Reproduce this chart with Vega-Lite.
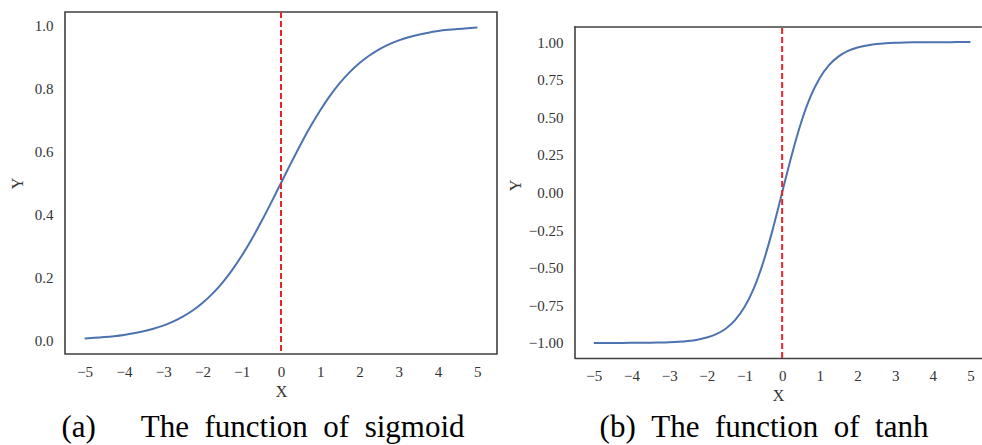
{
  "$schema": "https://vega.github.io/schema/vega-lite/v6.json",
  "background": "white",
  "padding": {"left": 8, "top": 10, "right": 0, "bottom": 0},
  "spacing": 9,
  "datasets": {
    "curve": [
      {"x": -5, "s": 0.00669, "t": -0.99991},
      {"x": -4.75, "s": 0.00858, "t": -0.99985},
      {"x": -4.5, "s": 0.01099, "t": -0.99975},
      {"x": -4.25, "s": 0.01406, "t": -0.99959},
      {"x": -4, "s": 0.01799, "t": -0.99933},
      {"x": -3.75, "s": 0.02298, "t": -0.9989},
      {"x": -3.5, "s": 0.02931, "t": -0.99818},
      {"x": -3.25, "s": 0.03733, "t": -0.997},
      {"x": -3, "s": 0.04743, "t": -0.99505},
      {"x": -2.75, "s": 0.06007, "t": -0.99186},
      {"x": -2.5, "s": 0.07586, "t": -0.98661},
      {"x": -2.25, "s": 0.09534, "t": -0.97803},
      {"x": -2, "s": 0.1192, "t": -0.96403},
      {"x": -1.75, "s": 0.14805, "t": -0.94138},
      {"x": -1.5, "s": 0.18243, "t": -0.90515},
      {"x": -1.25, "s": 0.2227, "t": -0.84828},
      {"x": -1, "s": 0.26894, "t": -0.76159},
      {"x": -0.75, "s": 0.32082, "t": -0.63515},
      {"x": -0.5, "s": 0.37754, "t": -0.46212},
      {"x": -0.25, "s": 0.43782, "t": -0.24492},
      {"x": 0, "s": 0.5, "t": 0},
      {"x": 0.25, "s": 0.56218, "t": 0.24492},
      {"x": 0.5, "s": 0.62246, "t": 0.46212},
      {"x": 0.75, "s": 0.67918, "t": 0.63515},
      {"x": 1, "s": 0.73106, "t": 0.76159},
      {"x": 1.25, "s": 0.7773, "t": 0.84828},
      {"x": 1.5, "s": 0.81757, "t": 0.90515},
      {"x": 1.75, "s": 0.85195, "t": 0.94138},
      {"x": 2, "s": 0.8808, "t": 0.96403},
      {"x": 2.25, "s": 0.90466, "t": 0.97803},
      {"x": 2.5, "s": 0.92414, "t": 0.98661},
      {"x": 2.75, "s": 0.93993, "t": 0.99186},
      {"x": 3, "s": 0.95257, "t": 0.99505},
      {"x": 3.25, "s": 0.96267, "t": 0.997},
      {"x": 3.5, "s": 0.97069, "t": 0.99818},
      {"x": 3.75, "s": 0.97702, "t": 0.9989},
      {"x": 4, "s": 0.98201, "t": 0.99933},
      {"x": 4.25, "s": 0.98594, "t": 0.99959},
      {"x": 4.5, "s": 0.98901, "t": 0.99975},
      {"x": 4.75, "s": 0.99142, "t": 0.99985},
      {"x": 5, "s": 0.99331, "t": 0.99991}
    ],
    "zero": [{"x0": 0}]
  },
  "config": {
    "view": {"stroke": null},
    "font": "Liberation Serif",
    "axis": {
      "grid": false,
      "ticks": false,
      "tickSize": 0,
      "labelFont": "Liberation Serif",
      "labelFontSize": 15,
      "labelColor": "#333333",
      "titleFont": "Liberation Serif",
      "titleFontSize": 16,
      "titleFontWeight": "normal",
      "titleColor": "#333333",
      "domainColor": "#404040",
      "domainWidth": 1.6,
      "domainCap": "square"
    },
    "title": {
      "font": "Liberation Serif",
      "fontSize": 31,
      "fontWeight": "normal",
      "color": "#000000"
    }
  },
  "hconcat": [
    {
      "width": 432,
      "height": 342,
      "view": {"stroke": "#404040", "strokeWidth": 1.6},
      "title": {
        "text": "(a)\u00a0\u00a0\u00a0\u00a0\u00a0\u2009The\u00a0\u00a0function\u00a0\u00a0of\u00a0\u00a0sigmoid",
        "orient": "bottom",
        "anchor": "middle",
        "offset": 14,
        "dx": -18
      },
      "layer": [
        {
          "data": {"name": "curve"},
          "mark": {"type": "line", "color": "#4c72b0", "strokeWidth": 2, "interpolate": "monotone"},
          "encoding": {
            "x": {
              "field": "x", "type": "quantitative",
              "scale": {"domain": [-5.5, 5.5], "nice": false, "zero": false},
              "axis": {"values": [-5, -4, -3, -2, -1, 0, 1, 2, 3, 4, 5], "domain": false, "labelPadding": 10, "title": "X", "titlePadding": 4}
            },
            "y": {
              "field": "s", "type": "quantitative",
              "scale": {"domain": [-0.0426, 1.0426], "nice": false, "zero": false},
              "axis": {"values": [0, 0.2, 0.4, 0.6, 0.8, 1.0], "format": ".1f", "domain": false, "labelPadding": 12, "title": "Y", "titlePadding": 9}
            }
          }
        },
        {
          "data": {"name": "zero"},
          "mark": {"type": "rule", "color": "#e8242a", "strokeWidth": 2, "strokeDash": [6, 3]},
          "encoding": {"x": {"field": "x0", "type": "quantitative"}}
        }
      ]
    },
    {
      "width": 406,
      "height": 346,
      "title": {
        "text": "(b)\u00a0\u00a0The\u00a0\u00a0function\u00a0\u00a0of\u00a0\u00a0tanh",
        "orient": "bottom",
        "anchor": "middle",
        "offset": 10,
        "dx": -14
      },
      "layer": [
        {
          "data": {"name": "curve"},
          "mark": {"type": "line", "color": "#4c72b0", "strokeWidth": 2, "interpolate": "monotone"},
          "encoding": {
            "x": {
              "field": "x", "type": "quantitative",
              "scale": {"domain": [-5.5, 5.28], "nice": false, "zero": false},
              "axis": {"values": [-5, -4, -3, -2, -1, 0, 1, 2, 3, 4, 5], "domain": true, "labelPadding": 10, "title": "X", "titlePadding": 4}
            },
            "y": {
              "field": "t", "type": "quantitative",
              "scale": {"domain": [-1.1, 1.2], "nice": false, "zero": false},
              "axis": {"values": [-1, -0.75, -0.5, -0.25, 0, 0.25, 0.5, 0.75, 1], "format": ".2f", "domain": false, "labelPadding": 12, "title": "Y", "titlePadding": 5}
            }
          }
        },
        {
          "data": {"name": "zero"},
          "mark": {"type": "rule", "color": "#e8242a", "strokeWidth": 2, "strokeDash": [6, 3]},
          "encoding": {
            "x": {"field": "x0", "type": "quantitative"},
            "y": {"datum": -1.1},
            "y2": {"datum": 1.1}
          }
        },
        {
          "data": {"name": "zero"},
          "mark": {"type": "rule", "color": "#404040", "strokeWidth": 1.6, "strokeCap": "square"},
          "encoding": {
            "x": {"datum": -5.5},
            "y": {"datum": -1.1},
            "y2": {"datum": 1.1}
          }
        },
        {
          "data": {"name": "zero"},
          "mark": {"type": "rule", "color": "#404040", "strokeWidth": 1.6, "strokeCap": "square"},
          "encoding": {
            "x": {"datum": -5.5},
            "x2": {"datum": 5.28},
            "y": {"datum": 1.1}
          }
        }
      ]
    }
  ]
}
